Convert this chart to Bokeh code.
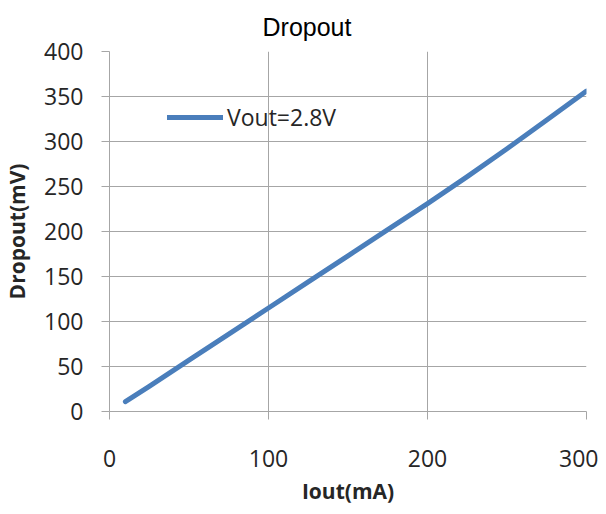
from bokeh.plotting import figure
from bokeh.models import Range1d, FixedTicker, Legend, LegendItem, ColumnDataSource
from bokeh.embed import file_html
from bokeh.resources import INLINE

# Data
iout_ma = [10, 25, 50, 75, 100, 125, 150, 175, 200, 225, 250, 275, 300]
dropout_mv = [11, 28, 57, 86, 115, 144, 173, 202, 231, 261, 292, 324, 356]
series_label = "Vout=2.8V"
x_ticks = [0, 100, 200, 300]
y_ticks = [0, 50, 100, 150, 200, 250, 300, 350, 400]

FONT = "Open Sans"
GRID = "#a6a6a6"
TXT = "#262626"

p = figure(frame_width=477, frame_height=360, output_backend="svg", toolbar_location=None,
           x_range=Range1d(0, 300), y_range=Range1d(0, 400),
           min_border_left=109, min_border_right=12, min_border_top=51, min_border_bottom=95)

p.title.text = "Dropout"
p.title.align = "left"
p.title.offset = 153
p.title.standoff = 21
p.title.text_font = "Liberation Sans"
p.title.text_font_size = "25px"
p.title.text_font_style = "normal"
p.title.text_color = "#000000"

src = ColumnDataSource(dict(x=iout_ma, y=dropout_mv))
r = p.line("x", "y", source=src, line_color="#4a7ebb", line_width=5,
           line_cap="round", line_join="round")

legend = Legend(items=[LegendItem(label=series_label, renderers=[r])],
                location=(58, 278), orientation="vertical",
                border_line_color=None, background_fill_alpha=0,
                label_text_font=FONT, label_text_font_size="23px", label_text_color=TXT,
                glyph_width=56, glyph_height=20, label_standoff=4, padding=0, margin=0)
p.add_layout(legend, "center")

p.outline_line_color = None
p.background_fill_color = "white"

p.xaxis.ticker = FixedTicker(ticks=x_ticks)
p.yaxis.ticker = FixedTicker(ticks=y_ticks)
p.xgrid.ticker = FixedTicker(ticks=x_ticks)
p.ygrid.ticker = FixedTicker(ticks=y_ticks)
for g in (p.xgrid, p.ygrid):
    g.grid_line_color = GRID
    g.grid_line_width = 1

for ax in (p.xaxis, p.yaxis):
    ax.axis_line_color = GRID
    ax.axis_line_width = 1
    ax.major_tick_line_color = GRID
    ax.major_tick_out = 8
    ax.major_tick_in = 0
    ax.minor_tick_line_color = None
    ax.major_label_text_font = FONT
    ax.major_label_text_font_size = "23px"
    ax.major_label_text_color = TXT
    ax.axis_label_text_font = FONT
    ax.axis_label_text_font_size = "21px"
    ax.axis_label_text_font_style = "bold"
    ax.axis_label_text_color = TXT

p.xaxis.axis_label = "Iout(mA)"
p.yaxis.axis_label = "Dropout(mV)"
p.xaxis.major_label_standoff = 30
p.xaxis.axis_label_standoff = 7
p.yaxis.major_label_standoff = 18
p.yaxis.axis_label_standoff = 10

open("out.html", "w").write(file_html(p, INLINE))
